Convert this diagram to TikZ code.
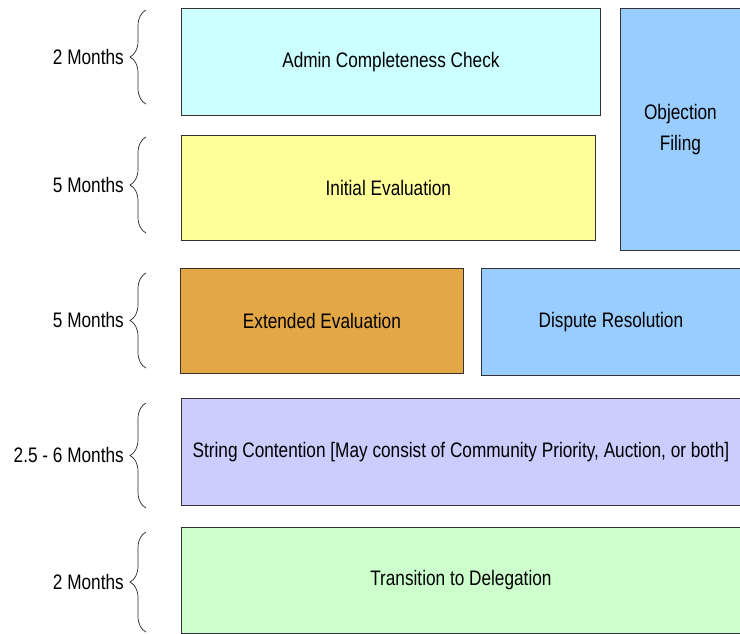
\documentclass[tikz,border=0pt]{standalone}
\usepackage{fontspec}
\setmainfont{Liberation Sans}[FakeStretch=0.82]
\usepackage{xcolor}
\usepackage{tikz}
\usetikzlibrary{positioning,decorations.pathreplacing}

\definecolor{adminc}{HTML}{CCFFFF}
\definecolor{initc}{HTML}{FFFF99}
\definecolor{objc}{HTML}{99CCFF}
\definecolor{extc}{HTML}{E3A845}
\definecolor{stringc}{HTML}{CCCCFF}
\definecolor{transc}{HTML}{CCFFCC}

\begin{document}
\begin{tikzpicture}[
    x=1pt,y=-1pt,
    box/.style={draw=black!80, line width=0.8pt, anchor=north west, inner sep=0pt, align=center, font=\fontsize{21}{31}\selectfont},
    span/.style={anchor=east, inner sep=0pt, font=\fontsize{21}{25}\selectfont},
    brace/.style={decorate, decoration={brace, amplitude=16pt}, line width=0.7pt, black!85}
]
    \useasboundingbox (0,0) rectangle (740,633);

    % Phases
    \node[box, fill=adminc, minimum width=419pt, minimum height=107pt] (admin) at (181,8) {Admin Completeness Check};
    \node[box, fill=initc, minimum width=414pt, minimum height=105pt] (init) at (181,135) {Initial Evaluation};
    \node[box, fill=objc, minimum width=120pt, minimum height=242pt] (obj) at (620,8) {Objection\\Filing};
    \node[box, fill=extc, minimum width=283pt, minimum height=105pt] (ext) at (180,268) {Extended Evaluation};
    \node[box, fill=objc, minimum width=259pt, minimum height=107pt] (disp) at (481,268) {Dispute Resolution};
    \node[box, fill=stringc, minimum width=559pt, minimum height=107pt] (string) at (181,398) {String Contention [May consist of Community Priority, Auction, or both]};
    \node[box, fill=transc, minimum width=559pt, minimum height=106pt] (trans) at (181,527) {Transition to Delegation};

    % Durations
    \node[span] (d1) at (124,57) {2 Months};
    \node[span] (d2) at (124,185) {5 Months};
    \node[span] (d3) at (124,320) {5 Months};
    \node[span] (d4) at (124,455) {2.5 - 6 Months};
    \node[span] (d5) at (124,582) {2 Months};

    \draw[brace] (146,104) -- (146,10);
    \draw[brace] (146,233) -- (146,137);
    \draw[brace] (146,368) -- (146,273);
    \draw[brace] (146,508) -- (146,403);
    \draw[brace] (146,632) -- (146,532);
\end{tikzpicture}
\end{document}
